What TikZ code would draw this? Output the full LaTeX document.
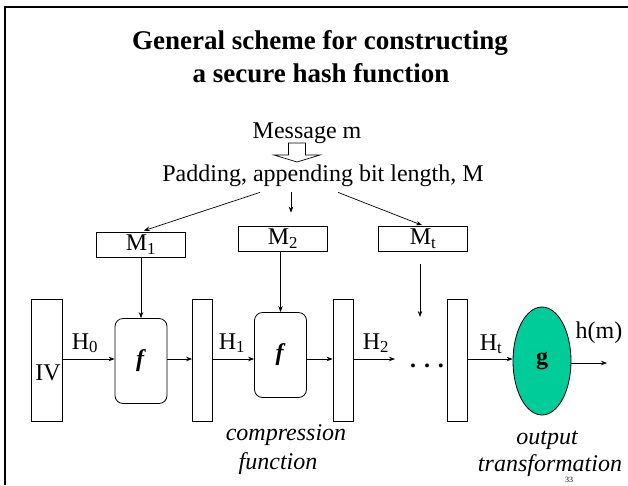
\documentclass[tikz,border=0pt]{standalone}
\usepackage{fontspec}
\setmainfont{Liberation Serif}
\usetikzlibrary{arrows.meta,shapes.geometric}
\definecolor{gteal}{RGB}{0,204,153}

\begin{document}
\begin{tikzpicture}[x=1pt,y=-1pt,
    big/.style={font=\fontsize{24}{28}\selectfont},
    title/.style={font=\bfseries\fontsize{27}{30}\selectfont, anchor=base},
    lbl/.style={big, anchor=base, inner sep=0pt},
    ital/.style={lbl, font=\itshape\fontsize{24}{28}\selectfont},
    reg/.style={rectangle, draw, line width=0.8pt, minimum width=20pt, minimum height=122pt, inner sep=0pt},
    mbox/.style={rectangle, draw, line width=0.8pt, minimum width=89pt, minimum height=25pt, inner sep=0pt, big},
    fbox/.style={rectangle, draw, line width=0.8pt, rounded corners=8pt, minimum width=52pt, minimum height=85pt, big},
    arr/.style={-{Stealth[length=6pt,width=4.5pt]}, line width=0.7pt}]
    \useasboundingbox (0,0) rectangle (628,485);

    % Frame
    \draw[line width=2.5pt] (5,485) -- (5,7) -- (628,7);

    % Title
    \node[title] (t1) at (320,49) {General scheme for constructing};
    \node[title] (t2) at (321,82) {a secure hash function};

    % Message and padding
    \node[lbl] (msg) at (307,138) {Message m};
    \draw[line width=0.7pt, fill=white] (288.5,143) -- (305.5,143) -- (305.5,155) -- (320,155)
        -- (297,162) -- (274,155) -- (288.5,155) -- cycle;
    \node[lbl] (pad) at (323,181) {Padding, appending bit length, M};

    % Message blocks
    \node[mbox] (m1) at (141,244.5) {M\textsubscript{1}};
    \node[mbox] (m2) at (283,238.5) {M\textsubscript{2}};
    \node[mbox] (mt) at (423,238.5) {M\textsubscript{t}};

    % Chaining variables
    \node[reg, minimum width=31pt] (iv) at (46.5,360) {};
    \node[reg] (r1) at (202.5,360) {};
    \node[reg] (r2) at (343,360) {};
    \node[reg] (rt) at (457,360) {};
    \node[lbl] (ivlbl) at (48,380) {IV};

    % Compression and output
    \node[fbox] (f1) at (141,361) {\textbf{\textit{f}}};
    \node[fbox] (f2) at (280.5,355) {\textbf{\textit{f}}};
    \node[ellipse, draw, line width=0.8pt, fill=gteal, minimum width=58pt, minimum height=108pt, big] (g) at (542,361) {\textbf{g}};
    \node[big, anchor=base] (dots) at (427,367) {\textbf{. . .}};
    \coordinate (h2end) at (395,359);
    \coordinate (hend) at (607,363);
    \coordinate (mtend) at (420,317);

    % Connections
    \draw[arr, shorten >=3pt] ([xshift=-63pt,yshift=-6pt]pad.south) -- (m1.north);
    \draw[arr, shorten >=13pt] ([xshift=-32pt,yshift=-6pt]pad.south) -- ([xshift=8pt]m2.north);
    \draw[arr, shorten >=1pt] ([xshift=15pt,yshift=-6pt]pad.south) -- (mt.north);
    \draw[arr] (m1) -- (f1);
    \draw[arr] (f2.north |- m2.south) -- (f2.north);
    \draw[arr, shorten <=13pt] (mtend |- mt.south) -- (mtend);
    \draw[arr] (iv.east |- h2end) -- (f1.west |- h2end);
    \draw[arr] (f1.east |- h2end) -- (r1.west |- h2end);
    \draw[arr] (r1.east |- h2end) -- (f2.west |- h2end);
    \draw[arr] (f2.east |- h2end) -- (r2.west |- h2end);
    \draw[arr] (r2.east |- h2end) -- (h2end);
    \draw[arr] (rt.east |- h2end) -- (g.west |- h2end);
    \draw[arr] (g.east |- hend) -- (hend);

    % Labels
    \node[lbl] (h0) at (85,349) {H\textsubscript{0}};
    \node[lbl] (h1) at (232,349) {H\textsubscript{1}};
    \node[lbl] (h2) at (376,349) {H\textsubscript{2}};
    \node[lbl] (ht) at (491,350) {H\textsubscript{t}};
    \node[lbl] (hm) at (599,338) {h(m)};
    \node[ital] (comp1) at (286,440) {compression};
    \node[ital] (comp2) at (278,469) {function};
    \node[ital] (out1) at (547,444) {output};
    \node[ital] (out2) at (550,471) {transformation};
    \node[lbl, font=\fontsize{8}{9}\selectfont] (pg) at (569,482) {33};
\end{tikzpicture}
\end{document}
